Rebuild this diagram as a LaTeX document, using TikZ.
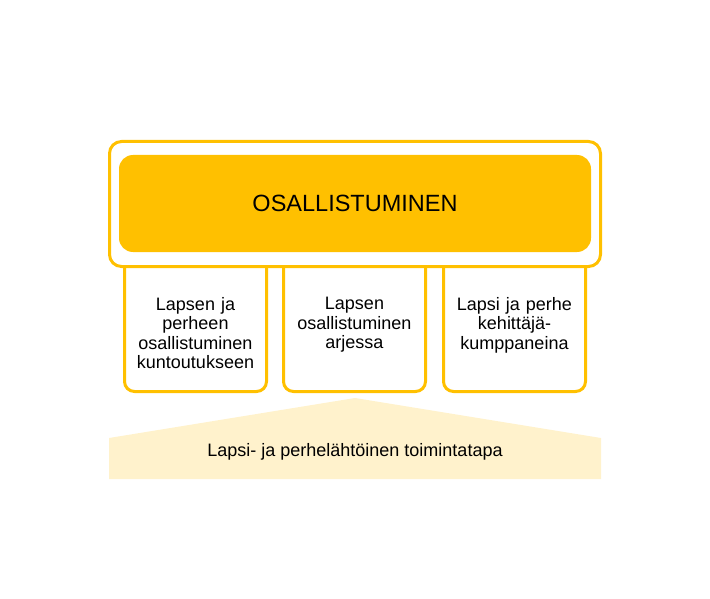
\documentclass[tikz,border=0pt]{standalone}
\usepackage{fontspec}
\setmainfont{Liberation Sans}
\usepackage{tikz}
\definecolor{kelta}{RGB}{255, 192, 0}
\definecolor{vaalea}{RGB}{255, 242, 204}
\usetikzlibrary{positioning}

\begin{document}
\begin{tikzpicture}[x=1pt, y=-1pt]
\useasboundingbox (0, 0) rectangle (710, 599);
\node (p1) [rectangle, rounded corners=10pt, minimum width=142pt, minimum height=142pt, fill=white, line width=3pt, draw=kelta] at (195.5, 320.5) {};
\node (p2) [rectangle, rounded corners=10pt, minimum width=142pt, minimum height=142pt, fill=white, line width=3pt, draw=kelta] at (354.5, 320.5) {};
\node (p3) [rectangle, rounded corners=10pt, minimum width=142pt, minimum height=142pt, fill=white, line width=3pt, draw=kelta] at (514.5, 320.5) {};
\node (ulko) [rectangle, rounded corners=12pt, minimum width=491pt, minimum height=125pt, fill=white, line width=3pt, draw=kelta] at (355, 204) {};
\node (osa) [rectangle, rounded corners=14pt, minimum width=472pt, minimum height=97pt, fill=kelta, font=\fontsize{23.5pt}{27pt}\selectfont] at (355, 203.5) {OSALLISTUMINEN};
\node (t1) [anchor=north, text width=140pt, align=center, font=\fontsize{18pt}{19.3pt}\selectfont] at (195.5, 294) {Lapsen ja\\perheen\\osallistuminen\\kuntoutukseen};
\node (t2) [anchor=north, text width=140pt, align=center, font=\fontsize{18pt}{19.3pt}\selectfont] at (354.5, 294) {Lapsen\\osallistuminen\\arjessa};
\node (t3) [anchor=north, text width=140pt, align=center, font=\fontsize{18pt}{19.3pt}\selectfont] at (514.5, 294) {Lapsi ja perhe\\kehittäjä-\\kumppaneina};
\fill [vaalea] (109, 479) -- (109, 438) -- (355, 398) -- (601, 438) -- (601, 479) -- cycle;
\node (pohja) [font=\fontsize{18pt}{19pt}\selectfont] at (355, 452) {Lapsi- ja perhelähtöinen toimintatapa};
\end{tikzpicture}
\end{document}
